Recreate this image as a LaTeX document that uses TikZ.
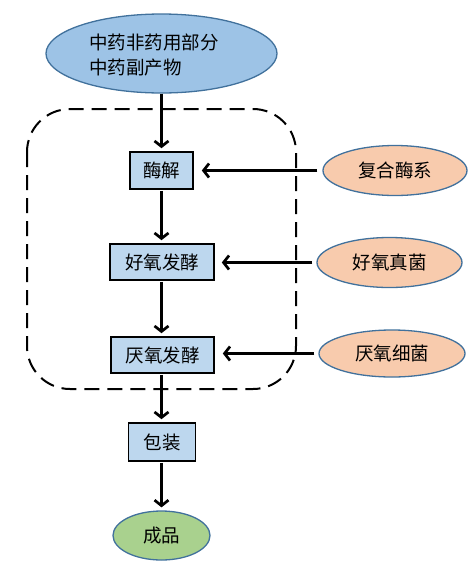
\documentclass[tikz,border=0pt]{standalone}
\usepackage{fontspec}
\setmainfont{Noto Sans CJK SC}
\usetikzlibrary{shapes.geometric,arrows.meta}
\definecolor{topblue}{HTML}{9DC3E6}
\definecolor{boxblue}{HTML}{BDD7EE}
\definecolor{peach}{HTML}{F8CBAD}
\definecolor{leaf}{HTML}{A9D18E}
\definecolor{edgeblue}{HTML}{41719C}
\tikzset{
  every node/.style={font=\fontsize{18.5}{25}\selectfont, inner sep=0pt},
  procbox/.style={draw=black, line width=1.6pt, fill=boxblue, rectangle},
  oval/.style={draw=edgeblue, line width=1.3pt, ellipse},
  flow/.style={line width=2.7pt, -{Straight Barb[length=5.5pt,width=14pt,line width=2.7pt]}},
}
\begin{document}
\begin{tikzpicture}[x=1pt,y=-1pt]
\useasboundingbox (0,0) rectangle (475,574);
% dashed container
\draw[line width=2pt, dash pattern=on 15pt off 8pt, rounded corners=43pt] (27,109) rectangle (296,389);
% top ellipse
\node[oval, fill=topblue, minimum width=231pt, minimum height=79pt] (src) at (161.5,53.5) {};
\node[anchor=west, align=left] (srctext) at (89,54.5) {中药非药用部分\\中药副产物};
% process boxes
\node[procbox, minimum width=63pt, minimum height=37pt] (enz) at (161.5,170.5) {酶解};
\node[procbox, minimum width=104pt, minimum height=36pt] (aer) at (162,262) {好氧发酵};
\node[procbox, minimum width=103pt, minimum height=36pt] (ana) at (162.5,355) {厌氧发酵};
\node[procbox, minimum width=67pt, minimum height=38pt] (pack) at (162,442) {包装};
\node[oval, fill=leaf, minimum width=97pt, minimum height=49pt] (prod) at (161.5,535.5) {成品};
% right ellipses
\node[oval, fill=peach, minimum width=144pt, minimum height=50pt] (e1) at (395,170.5) {复合酶系};
\node[oval, fill=peach, minimum width=145pt, minimum height=50pt] (e2) at (389.5,262.5) {好氧真菌};
\node[oval, fill=peach, minimum width=146pt, minimum height=47pt] (e3) at (392,353.5) {厌氧细菌};
% vertical flow
\draw[flow, shorten >=3pt] (src.south) -- (enz.north);
\draw[flow, shorten <=1pt, shorten >=3pt] (enz.south) -- (enz.south |- aer.north);
\draw[flow, shorten <=1pt, shorten >=3pt] (enz.south |- aer.south) -- (enz.south |- ana.north);
\draw[flow, shorten <=1pt, shorten >=3pt] (enz.south |- ana.south) -- (enz.south |- pack.north);
\draw[flow, shorten <=1pt, shorten >=3pt] (enz.south |- pack.south) -- (enz.south |- prod.north);
% horizontal flow
\draw[flow, shorten <=5pt, shorten >=8pt] (e1.west) -- (enz.east |- e1.west);
\draw[flow, shorten <=4pt, shorten >=7pt] (e2.west) -- (aer.east |- e2.west);
\draw[flow, shorten <=4pt, shorten >=8pt] (e3.west) -- (ana.east |- e3.west);
\end{tikzpicture}
\end{document}
